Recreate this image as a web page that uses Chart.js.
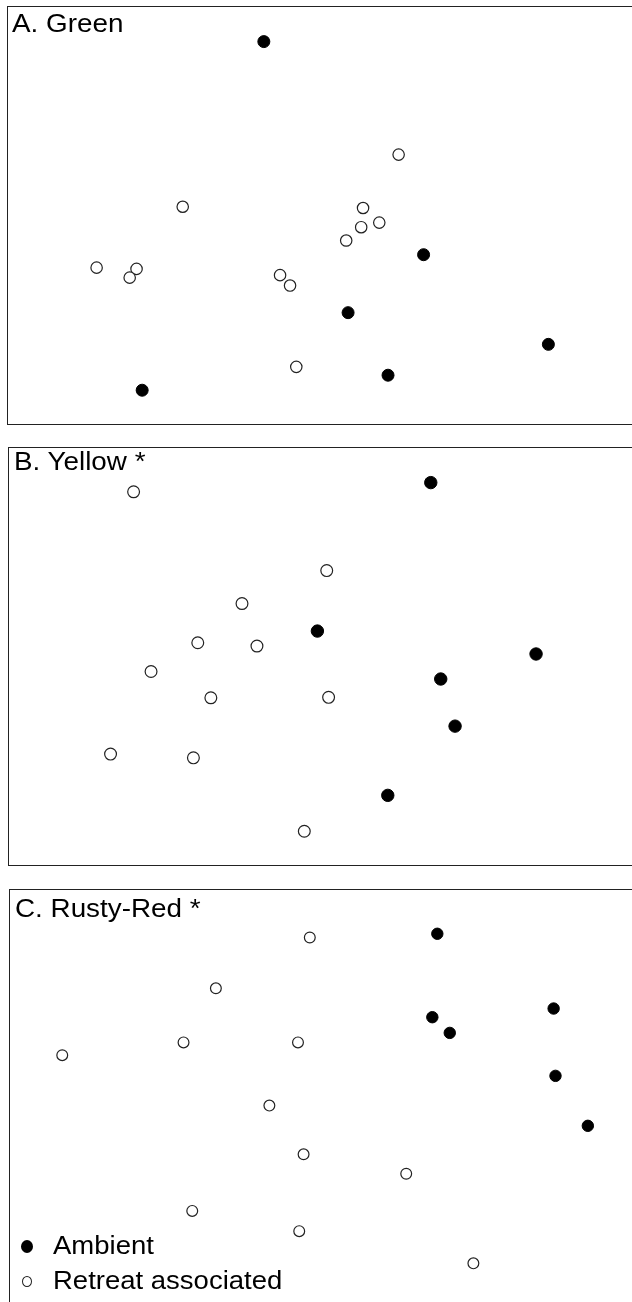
<!DOCTYPE html>
<html>
<head>
<meta charset="utf-8">
<script src="https://cdn.jsdelivr.net/npm/chart.js@4"></script>
<style>
  body { margin: 0; background: #fff; width: 632px; height: 1302px; overflow: hidden; position: relative;
         font-family: "Liberation Sans", Arial, sans-serif; }
  .panel { position: absolute; border: 1px solid #222; border-right: none; box-sizing: border-box; }
  .panel canvas { position: absolute; left: 0; top: 0; }
  .label { position: absolute; line-height: 1; white-space: nowrap; transform-origin: 0 0; color: #000; }
  .dot { position: absolute; border-radius: 50%; box-sizing: border-box; }
</style>
</head>
<body>
<div class="panel" style="left:7px;top:6px;width:625px;height:419px"><canvas id="chartA" width="624" height="417"></canvas></div>
<div class="panel" style="left:8px;top:447px;width:624px;height:419px"><canvas id="chartB" width="623" height="417"></canvas></div>
<div class="panel" style="left:9px;top:889px;width:623px;height:414px;border-bottom:none"><canvas id="chartC" width="622" height="413"></canvas></div>

<div class="label" id="titleA" style="left:12px;top:9.6px;font-size:26.5px;transform:scaleX(1.05)"></div>
<div class="label" id="titleB" style="left:13.5px;top:448.3px;font-size:26.5px;transform:scaleX(1.05)"></div>
<div class="label" id="titleC" style="left:15px;top:895px;font-size:26.5px;transform:scaleX(1.05)"></div>

<div class="dot" style="left:21px;top:1239.5px;width:12px;height:13px;background:#000"></div>
<div class="dot" style="left:22px;top:1275.5px;width:10px;height:11px;border:1.3px solid #222;background:#fff"></div>
<div class="label" id="legAmb" style="left:53px;top:1233px;font-size:25px;transform:scaleX(1.1)"></div>
<div class="label" id="legRet" style="left:53px;top:1268px;font-size:25px;transform:scaleX(1.1)"></div>

<script>
// panel titles and legend text
const panelTitles = ['A. Green', 'B. Yellow *', 'C. Rusty-Red *'];
const legendLabels = ['Ambient', 'Retreat associated'];

// ordination scores, each axis scaled 0-100 across the panel
const greenAmbient = [[41.0, 91.7], [66.6, 40.6], [54.5, 26.7], [86.6, 19.1], [60.9, 11.7], [21.5, 8.1]];
const greenRetreat = [[62.6, 64.6], [28.0, 52.1], [56.9, 51.8], [59.5, 48.3], [56.6, 47.2], [54.2, 44.0],
                      [14.2, 37.5], [20.6, 37.2], [19.5, 35.1], [43.6, 35.7], [45.2, 33.2], [46.2, 13.7]];

const yellowAmbient = [[67.7, 91.7], [49.5, 56.1], [84.6, 50.6], [69.3, 44.6], [71.6, 33.3], [60.8, 16.7]];
const yellowRetreat = [[20.0, 89.5], [51.0, 70.6], [37.4, 62.7], [30.3, 53.3], [39.8, 52.5], [22.8, 46.4],
                       [32.4, 40.1], [51.3, 40.2], [16.3, 26.6], [29.6, 25.7], [47.4, 8.1]];

const redAmbient = [[68.7, 89.4], [87.4, 71.3], [67.9, 69.2], [70.7, 65.4], [87.7, 55.0], [92.9, 42.9]];
const redRetreat = [[48.2, 88.5], [33.1, 76.2], [27.9, 63.1], [46.3, 63.1], [8.4, 60.0], [41.7, 47.8],
                    [47.2, 36.0], [63.7, 31.3], [29.3, 22.3], [46.5, 17.4], [74.5, 9.6]];

document.getElementById('titleA').textContent = panelTitles[0];
document.getElementById('titleB').textContent = panelTitles[1];
document.getElementById('titleC').textContent = panelTitles[2];
document.getElementById('legAmb').textContent = legendLabels[0];
document.getElementById('legRet').textContent = legendLabels[1];

function toPoints(list) {
    return list.map(function(p) { return {x: p[0], y: p[1]}; });
}

function makePanel(id, ambient, retreat, r) {
    new Chart(document.getElementById(id), {
        type: 'scatter',
        data: {
            datasets: [{
                label: legendLabels[0],
                data: toPoints(ambient),
                pointRadius: r,
                pointBackgroundColor: '#000',
                pointBorderColor: '#000',
                pointBorderWidth: 1
            }, {
                label: legendLabels[1],
                data: toPoints(retreat),
                pointRadius: r - 0.3,
                pointBackgroundColor: '#fff',
                pointBorderColor: '#222',
                pointBorderWidth: 1.2
            }]
        },
        options: {
            responsive: false,
            animation: false,
            events: [],
            clip: false,
            layout: { padding: 0, autoPadding: false },
            plugins: {
                legend: { display: false },
                tooltip: { enabled: false }
            },
            scales: {
                x: { display: false, min: 0, max: 100 },
                y: { display: false, min: 0, max: 100 }
            }
        }
    });
}

makePanel('chartA', greenAmbient, greenRetreat, 6);
makePanel('chartB', yellowAmbient, yellowRetreat, 6.2);
makePanel('chartC', redAmbient, redRetreat, 5.7);
</script>
</body>
</html>
